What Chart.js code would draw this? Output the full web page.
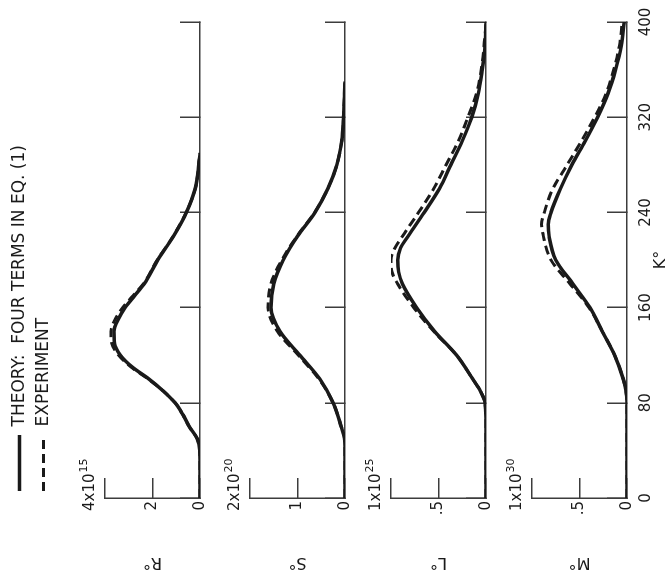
<!DOCTYPE html>
<html>
<head>
<meta charset="utf-8">
<script src="https://cdn.jsdelivr.net/npm/chart.js@4.4.1/dist/chart.umd.min.js"></script>
<style>
	html, body { margin: 0; padding: 0; overflow: hidden; background: #fff; }
	/* the figure is laid out upright and then turned a quarter left, like the scanned page */
	#figure { position: absolute; left: 0; top: 576px; width: 576px; height: 670px; transform-origin: 0 0; transform: rotate(-90deg); }
	#figure canvas { position: absolute; left: 0; }
</style>
</head>
<body>
<div id="figure">
	<canvas id="chartR" width="576" height="204" style="top:0px"></canvas>
	<canvas id="chartS" width="576" height="129" style="top:220px"></canvas>
	<canvas id="chartL" width="576" height="129" style="top:361px"></canvas>
	<canvas id="chartM" width="576" height="168" style="top:502px"></canvas>
</div>
<script>
const kMin = 0;
const kMax = 400;
const kStep = 80;

const seriesLabels = ['THEORY:  FOUR TERMS IN EQ. (1)', 'EXPERIMENT'];

// R°, units of 10^15
const rK = [0, 20, 40, 50, 60, 70, 80, 90, 100, 110, 120, 130, 140, 150, 160, 170, 180, 200, 220, 240, 260, 280, 290];
const rTheory = [0, 0, 0.01, 0.12, 0.45, 0.72, 1.05, 1.55, 2.15, 2.85, 3.35, 3.6, 3.62, 3.45, 3.15, 2.75, 2.35, 1.78, 1.12, 0.57, 0.2, 0.05, 0];
const rExperiment = [0, 0, 0.01, 0.12, 0.45, 0.72, 1.05, 1.55, 2.18, 2.9, 3.42, 3.72, 3.75, 3.58, 3.25, 2.82, 2.38, 1.8, 1.13, 0.58, 0.2, 0.05, 0];

// S°, units of 10^20
const sK = [0, 20, 40, 50, 60, 80, 100, 120, 140, 160, 180, 200, 220, 240, 260, 280, 300, 320, 340, 350];
const sTheory = [0, 0, 0, 0.01, 0.08, 0.25, 0.53, 0.95, 1.37, 1.56, 1.5, 1.3, 1.0, 0.63, 0.36, 0.17, 0.07, 0.03, 0.01, 0];
const sExperiment = [0, 0, 0, 0.01, 0.08, 0.25, 0.55, 0.98, 1.42, 1.62, 1.56, 1.33, 1.01, 0.64, 0.36, 0.17, 0.07, 0.03, 0.01, 0];

// L°, units of 10^25
const lK = [0, 20, 40, 60, 80, 90, 100, 120, 140, 160, 180, 190, 200, 210, 220, 240, 260, 280, 300, 320, 340, 360, 380, 400];
const lTheory = [0, 0, 0, 0, 0.01, 0.06, 0.14, 0.31, 0.54, 0.73, 0.88, 0.92, 0.93, 0.9, 0.82, 0.65, 0.49, 0.37, 0.25, 0.15, 0.08, 0.04, 0.01, 0];
const lExperiment = [0, 0, 0, 0, 0.01, 0.06, 0.14, 0.31, 0.55, 0.76, 0.93, 0.99, 1.0, 0.96, 0.88, 0.71, 0.55, 0.42, 0.29, 0.19, 0.1, 0.05, 0.02, 0];

// M°, units of 10^30
const mK = [0, 20, 40, 60, 80, 90, 100, 120, 140, 160, 180, 200, 220, 230, 240, 260, 280, 300, 320, 340, 360, 380, 400];
const mTheory = [0, 0, 0, 0, 0, 0.01, 0.04, 0.13, 0.26, 0.39, 0.57, 0.75, 0.82, 0.83, 0.8, 0.7, 0.58, 0.44, 0.31, 0.2, 0.12, 0.06, 0.03];
const mExperiment = [0, 0, 0, 0, 0, 0.01, 0.04, 0.13, 0.26, 0.4, 0.6, 0.8, 0.88, 0.9, 0.87, 0.78, 0.63, 0.48, 0.34, 0.22, 0.14, 0.08, 0.05];

const ink = '#1a1a1a';
const axisColor = '#3c3c3c';
const fontFamily = '"DejaVu Sans", "Liberation Sans", sans-serif';

const toPoints = (ks, vs) => ks.map((k, i) => ({ x: k, y: vs[i] }));

// "4x10^15" style multiplier written just above the top of each value axis
const exponentLabel = {
	id: 'exponentLabel',
	afterDraw(chart, args, opts) {
		if (!opts.base) {
			return;
		}
		const { ctx } = chart;
		const yScale = chart.scales.y;
		const x = yScale.right - 13;
		const y = yScale.top - 15;
		ctx.save();
		ctx.fillStyle = ink;
		ctx.textBaseline = 'middle';
		ctx.font = `15px ${fontFamily}`;
		ctx.fillText(opts.base, x, y);
		const w = ctx.measureText(opts.base).width;
		ctx.font = `11px ${fontFamily}`;
		ctx.fillText(opts.power, x + w + 1, y - 6);
		ctx.restore();
	},
};

// leaves room between the legend and the top panel
const legendSpacer = {
	id: 'legendSpacer',
	beforeInit(chart, args, opts) {
		if (!chart.legend) {
			return;
		}
		const originalFit = chart.legend.fit;
		chart.legend.fit = function fit() {
			originalFit.bind(chart.legend)();
			if (this.options.display) {
				this.height += opts.extra || 0;
			}
		};
	},
};

const axisGrid = {
	drawOnChartArea: false,
	tickLength: -20, // ticks point into the panel
	color: axisColor,
	lineWidth: 1.5,
};

// fixed axis sizes, so every panel gets the same plot box
const fixScale = (size) => (scale) => {
	if (scale.isHorizontal()) {
		scale.height = size;
	} else {
		scale.width = size;
	}
	scale.paddingLeft = 0;
	scale.paddingRight = 0;
	scale.paddingTop = 0;
	scale.paddingBottom = 0;
};

const panelOptions = ({ title, max, step, base, power, showKAxis, showLegend }) => ({
	responsive: false,
	animation: false,
	layout: {
		padding: { top: showLegend ? 4 : 30, right: 22, left: 0, bottom: 0 },
	},
	elements: {
		point: { radius: 0 },
		line: { cubicInterpolationMode: 'monotone', borderColor: ink, fill: false },
	},
	plugins: {
		legend: {
			display: showLegend,
			position: 'top',
			align: 'start',
			fullSize: false,
			labels: {
				usePointStyle: true,
				pointStyle: 'line',
				pointStyleWidth: 56,
				padding: 7,
				color: ink,
				font: { family: fontFamily, size: 17 },
				// keep the dash of each line in its legend sample
				generateLabels: (chart) =>
					Chart.defaults.plugins.legend.labels.generateLabels(chart).map((item) => {
						const ds = chart.data.datasets[item.datasetIndex];
						return { ...item, lineDash: ds.borderDash || [], lineWidth: ds.borderWidth, strokeStyle: ink };
					}),
			},
		},
		tooltip: { enabled: false },
		exponentLabel: { base, power },
		legendSpacer: { extra: 43 },
	},
	scales: {
		x: {
			type: 'linear',
			min: kMin,
			max: kMax,
			afterFit: fixScale(showKAxis ? 43 : 4),
			border: { color: axisColor, width: 1.5 },
			grid: axisGrid,
			ticks: {
				display: showKAxis,
				stepSize: kStep,
				padding: 30,
				color: ink,
				font: { family: fontFamily, size: 15 },
			},
			title: {
				display: showKAxis,
				text: 'K°',
				padding: 0,
				color: ink,
				font: { family: fontFamily, size: 16 },
			},
		},
		y: {
			min: 0,
			max,
			afterFit: fixScale(78),
			border: { color: axisColor, width: 1.5 },
			grid: axisGrid,
			ticks: {
				stepSize: step,
				padding: 23,
				color: ink,
				font: { family: fontFamily, size: 15 },
				callback: (value) => (value === max ? '' : String(value).replace(/^0\./, '.')),
			},
			title: {
				display: true,
				text: title,
				padding: { top: 4, bottom: 0 },
				color: ink,
				font: { family: fontFamily, size: 16 },
			},
		},
	},
});

const drawPanel = (canvasId, k, theory, experiment, panel) =>
	new Chart(document.getElementById(canvasId), {
		type: 'line',
		data: {
			datasets: [
				{
					label: seriesLabels[0],
					data: toPoints(k, theory),
					borderColor: ink,
					borderWidth: 3.5,
				},
				{
					label: seriesLabels[1],
					data: toPoints(k, experiment),
					borderColor: ink,
					borderWidth: 3,
					borderDash: [9, 5],
				},
			],
		},
		options: panelOptions(panel),
		plugins: [exponentLabel, legendSpacer],
	});

drawPanel('chartR', rK, rTheory, rExperiment, { title: 'R°', max: 4, step: 2, base: '4x10', power: '15', showKAxis: false, showLegend: true });
drawPanel('chartS', sK, sTheory, sExperiment, { title: 'S°', max: 2, step: 1, base: '2x10', power: '20', showKAxis: false, showLegend: false });
drawPanel('chartL', lK, lTheory, lExperiment, { title: 'L°', max: 1, step: 0.5, base: '1x10', power: '25', showKAxis: false, showLegend: false });
drawPanel('chartM', mK, mTheory, mExperiment, { title: 'M°', max: 1, step: 0.5, base: '1x10', power: '30', showKAxis: true, showLegend: false });
</script>
</body>
</html>
